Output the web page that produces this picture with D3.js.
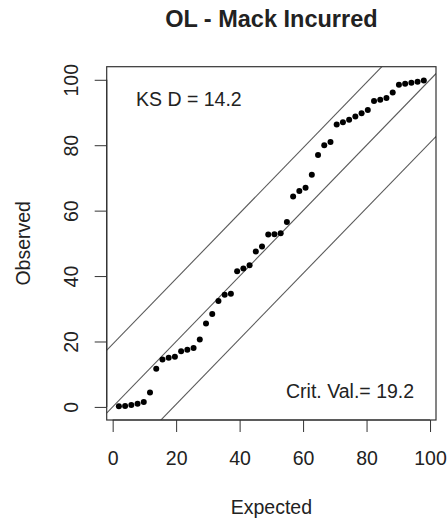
<!DOCTYPE html>
<html>
<head>
<meta charset="utf-8">
<script src="https://cdn.jsdelivr.net/npm/d3@7"></script>
<style>
  html, body { margin: 0; padding: 0; background: #fff; }
  text { font-family: "Liberation Sans", Arial, sans-serif; fill: #222; }
</style>
</head>
<body>
<svg id="chart" width="448" height="518"></svg>
<script>
// ---- data ----
const title = "OL - Mack Incurred";
const xLabel = "Expected";
const yLabel = "Observed";
const expected = [1.96, 3.92, 5.88, 7.84, 9.80, 11.76, 13.73, 15.69, 17.65, 19.61,
  21.57, 23.53, 25.49, 27.45, 29.41, 31.37, 33.33, 35.29, 37.25, 39.22,
  41.18, 43.14, 45.10, 47.06, 49.02, 50.98, 52.94, 54.90, 56.86, 58.82,
  60.78, 62.75, 64.71, 66.67, 68.63, 70.59, 72.55, 74.51, 76.47, 78.43,
  80.39, 82.35, 84.31, 86.27, 88.24, 90.20, 92.16, 94.12, 96.08, 98.04];
const observed = [0.2, 0.3, 0.6, 1.0, 1.5, 4.4, 11.7, 14.5, 15.0, 15.3,
  17.0, 17.5, 18.0, 20.6, 25.5, 28.4, 32.4, 34.3, 34.6, 41.5,
  42.3, 43.3, 47.5, 49.0, 52.7, 52.8, 53.1, 56.5, 64.3, 66.0,
  67.0, 71.0, 77.0, 80.0, 81.0, 86.3, 87.0, 87.8, 88.8, 89.8,
  90.8, 93.5, 93.9, 94.4, 96.1, 98.5, 98.8, 99.1, 99.4, 99.8];
const xTicks = [0, 20, 40, 60, 80, 100];
const yTicks = [0, 20, 40, 60, 80, 100];
const ksD = 14.2;
const critVal = 19.2;
const ksLabel = "KS D = 14.2";
const critLabel = "Crit. Val.= 19.2";

// ---- layout ----
const box = { left: 106.7, right: 436, top: 66.7, bottom: 420 };
const svg = d3.select("#chart");

const x = d3.scaleLinear().domain([-1.88, 101.88]).range([box.left, box.right]);
const y = d3.scaleLinear().domain([-4, 104]).range([box.bottom, box.top]);

const fs = 19.5;

// clip for lines
svg.append("defs").append("clipPath").attr("id", "clip")
  .append("rect").attr("x", box.left).attr("y", box.top)
  .attr("width", box.right - box.left).attr("height", box.bottom - box.top);

// diagonal lines y = x + c
const offsets = [critVal, 0, -critVal];
const lineG = svg.append("g").attr("clip-path", "url(#clip)");
offsets.forEach(c => {
  lineG.append("line")
    .attr("x1", x(-10)).attr("y1", y(-10 + c))
    .attr("x2", x(120)).attr("y2", y(120 + c))
    .attr("stroke", "#5a5a5a").attr("stroke-width", 1.1);
});

// points
svg.append("g").selectAll("circle")
  .data(expected.map((e, i) => [e, observed[i]]))
  .join("circle")
  .attr("cx", d => x(d[0]))
  .attr("cy", d => y(d[1]))
  .attr("r", 3)
  .attr("fill", "#000");

// box
svg.append("rect")
  .attr("x", box.left).attr("y", box.top)
  .attr("width", box.right - box.left).attr("height", box.bottom - box.top)
  .attr("fill", "none").attr("stroke", "#333").attr("stroke-width", 1.2);

// x axis
const xAxis = d3.axisBottom(x).tickValues(xTicks).tickSize(12).tickPadding(19).tickFormat(d3.format("d"));
const gx = svg.append("g").attr("transform", `translate(0,${box.bottom})`).call(xAxis);
gx.select(".domain").attr("d", `M${x(0)},0H${x(100)}`).attr("stroke", "#333").attr("stroke-width", 1.2);
gx.selectAll(".tick line").attr("stroke", "#333");
gx.selectAll(".tick text").attr("font-size", fs).attr("font-family", "Liberation Sans, Arial, sans-serif").attr("fill", "#222");

// y axis
const yAxis = d3.axisLeft(y).tickValues(yTicks).tickSize(12).tickPadding(0).tickFormat(d3.format("d"));
const gy = svg.append("g").attr("transform", `translate(${box.left},0)`).call(yAxis);
gy.select(".domain").attr("d", `M0,${y(0)}V${y(100)}`).attr("stroke", "#333").attr("stroke-width", 1.2);
gy.selectAll(".tick line").attr("stroke", "#333");
gy.selectAll(".tick text")
  .attr("font-size", fs).attr("font-family", "Liberation Sans, Arial, sans-serif").attr("fill", "#222")
  .attr("x", null).attr("dy", null)
  .attr("text-anchor", "middle")
  .attr("transform", `translate(${78 - box.left},0) rotate(-90)`);

// title
svg.append("text")
  .attr("x", (box.left + box.right) / 2).attr("y", 26.7)
  .attr("text-anchor", "middle").attr("font-size", 23.5).attr("font-weight", "bold")
  .text(title);

// axis labels
svg.append("text")
  .attr("x", (box.left + box.right) / 2).attr("y", 513.5)
  .attr("text-anchor", "middle").attr("font-size", fs)
  .text(xLabel);
svg.append("text")
  .attr("transform", `translate(29.5,${(box.top + box.bottom) / 2}) rotate(-90)`)
  .attr("text-anchor", "middle").attr("font-size", fs)
  .text(yLabel);

// annotations
svg.append("text")
  .attr("x", x(24)).attr("y", y(94)).attr("dy", "0.35em")
  .attr("text-anchor", "middle").attr("font-size", fs)
  .text(ksLabel);
svg.append("text")
  .attr("x", x(74.8)).attr("y", y(4.9)).attr("dy", "0.35em")
  .attr("text-anchor", "middle").attr("font-size", fs)
  .text(critLabel);
</script>
</body>
</html>
